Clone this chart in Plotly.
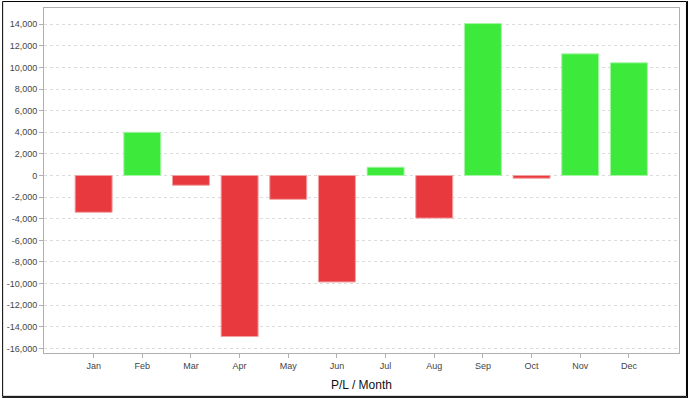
import plotly.graph_objects as go

months = ["Jan", "Feb", "Mar", "Apr", "May", "Jun", "Jul", "Aug", "Sep", "Oct", "Nov", "Dec"]
pl_values = [-3400, 4000, -900, -14900, -2200, -9850, 770, -3940, 14060, -250, 11260, 10430]
y_ticks = list(range(-16000, 14001, 2000))
y_ticktext = [("-" if v < 0 else "") + f"{abs(v):,}" for v in y_ticks]

RED = "#e8393e"
GREEN = "#3dea3c"
RED_EDGE = "#f3a0a2"
GREEN_EDGE = "#a6f4a5"

colors = [GREEN if v >= 0 else RED for v in pl_values]
edges = [GREEN_EDGE if v >= 0 else RED_EDGE for v in pl_values]

W, H = 688, 398
ml, mr, mt, mb = 42, 9, 7, 45

fig = go.Figure(go.Bar(
    x=months, y=pl_values,
    marker=dict(color=colors, line=dict(color=edges, width=1)),
    width=0.76,
    hoverinfo="x+y",
))

fig.update_layout(
    width=W, height=H,
    margin=dict(l=ml, r=mr, t=mt, b=mb, pad=0),
    paper_bgcolor="white", plot_bgcolor="white",
    font=dict(family="Liberation Sans, Arial, sans-serif", color="#333", size=9),
    showlegend=False,
    bargap=0.24,
)

fig.update_xaxes(
    type="category", range=[-1.02, 12.03],
    showgrid=False, zeroline=False,
    showline=True, linecolor="#b0b0b0", linewidth=1, mirror=True,
    ticks="outside", ticklen=4, tickcolor="#b0b0b0",
    tickfont=dict(size=9, color="#444"),
    title=dict(text="P/L / Month", font=dict(size=12, color="#111"), standoff=10),
)

fig.update_yaxes(
    range=[-16420, 15500],
    tickvals=y_ticks, ticktext=y_ticktext,
    showgrid=True, gridcolor="#dcdcdc", griddash="3px,3px", gridwidth=1,
    zeroline=False,
    showline=True, linecolor="#b0b0b0", linewidth=1, mirror=True,
    ticks="outside", ticklen=4, tickcolor="#b0b0b0",
    tickfont=dict(size=9, color="#444"),
)

pw = W - ml - mr
ph = H - mt - mb
def px_x(x):
    return (x - ml) / pw
def px_y(y):
    return 1 - (y - mt) / ph

fig.add_shape(type="rect", xref="paper", yref="paper",
              x0=px_x(0.5), x1=px_x(686.5), y0=px_y(0.5), y1=px_y(396.5),
              line=dict(color="black", width=1), layer="above")
fig.add_shape(type="line", xref="paper", yref="paper",
              x0=px_x(687.5), x1=px_x(687.5), y0=px_y(0), y1=px_y(398),
              line=dict(color="black", width=1), layer="above")
fig.add_shape(type="line", xref="paper", yref="paper",
              x0=px_x(0), x1=px_x(688), y0=px_y(397.5), y1=px_y(397.5),
              line=dict(color="black", width=1), layer="above")

fig.write_html("out.html")
